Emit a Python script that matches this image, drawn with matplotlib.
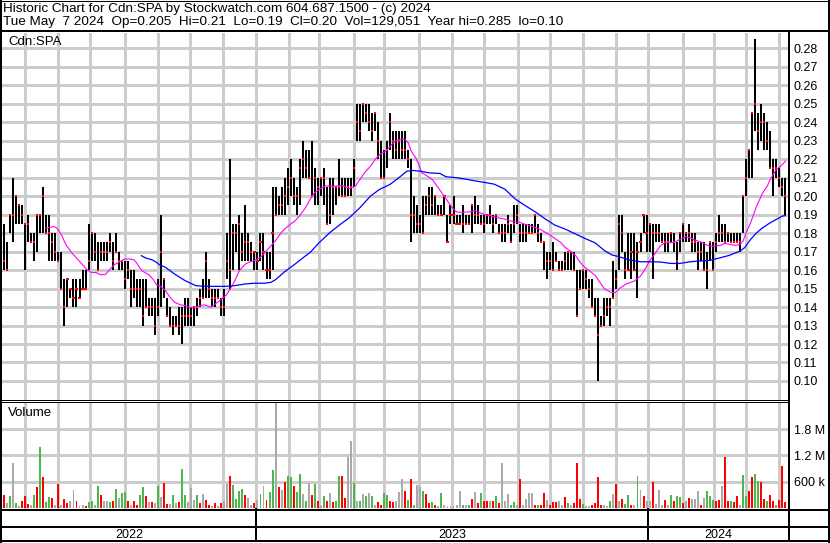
import numpy as np
import pandas as pd
import matplotlib
matplotlib.use("Agg")
import matplotlib.pyplot as plt
from matplotlib.lines import Line2D

plt.rcParams['font.family'] = ['Liberation Sans', 'DejaVu Sans']

# ---------------- data (prices in cents) ----------------
title_line1 = "Historic Chart for Cdn:SPA by Stockwatch.com 604.687.1500 - (c) 2024"
title_line2 = "Tue May  7 2024  Op=0.205  Hi=0.21  Lo=0.19  Cl=0.20  Vol=129,051  Year hi=0.285  lo=0.10"
symbol = "Cdn:SPA"
start_date, end_date = "2022-05-09", "2024-05-07"

highs = [18.5,18.5,17.5,19,21,20,19.5,19.5,18.5,19,18,18,19,19,20.5,19,19,18,18,17,
         17,15.5,15.5,15,15.5,15.5,15.5,16,16,18.5,18,18,17.5,17.5,17.5,17.5,18,17.5,18,17,
         16.5,16.5,16.5,16,16,15.5,15.5,15.5,15.5,14.5,14.5,14.5,15.5,19,15.5,14.5,14,13.5,13.5,14,
         14,14.5,14.5,14,14,14.5,15,15.5,17,15.5,15,15,15,14.5,15,18,22,18.5,18.5,19,
         18,19.5,18,17.5,17,17,18,18,17,17,20.5,20.5,20,20.5,21,21.5,22,21,20.5,22,
         23,22.5,22.5,23,21.5,21,21,21.5,20.5,21,21,20.5,22,21,21,21,21,22,25,25,
         25,25,25,24.5,24.5,24,23,22.5,23,24.5,23.5,23.5,23.5,23.5,23.5,22.5,22,20,19.5,19,
         20,20,20.5,20.5,20,19.5,19.5,20,19,19.5,20,19,19,19.5,19,19,19.5,20,19.5,19,
         19,19,19.5,19,19,18.5,18.5,18.5,19,18.5,19.5,19.5,18.5,18.5,18.5,18.5,18.5,19,18.5,18,
         17.5,17,17,17.5,17,16.5,16.5,17,17,17,17,16,16,16,16,15.5,15.5,14.5,14.5,13.5,
         14.5,14.5,14.5,16.5,16,19,19,17,18,18,18,17.5,18,19,19,18.5,18.5,18.5,18.5,18,
         18,18,18,18,17.5,18,18.5,18,18.5,18,18,17.5,17.5,17.5,17,17.5,17.5,18,19,18.5,
         18.5,18,18,18,18,18,20,22,22.5,24.5,28.5,24.5,25,24.5,24,23.5,22,22,21.5,21,21]
lows = [16.5,16,16,18,17.5,18.5,18.5,18.5,16,17.5,17.5,16.5,17,18,18,18,16.5,16.5,16.5,16.5,
        15,13,14,14.5,14,14,14.5,15,15,16,16.5,16.5,16,16.5,16.5,16.5,17,16,17,16,
        16,15,15.5,14,14.5,14,14,13,14,13.5,13.5,12.5,13.5,14,14.5,13.5,13,12.5,13,12.5,
        12,13,13,13,13,13.5,14,14.5,14.5,14.5,14,14,14.5,13.5,13.5,15.5,15,16,17,16,
        16.5,16.5,16.5,16.5,16,16,16.5,16,15.5,15.5,16,19,19,19,19,19.5,20,19.5,19,19.5,
        21,21,21,20,19.5,19.5,20,19.5,18.5,18.5,19,19.5,20,20,20,20,20,20.5,23,23,
        24,24,23.5,23,23.5,22,21,21,21.5,22.5,22,22,22,22,22,21.5,17.5,18,18,18,
        18,19,19,19,19,19,19,19,17.5,18.5,18.5,18.5,18.5,18,18.5,18.5,18,18.5,18.5,18.5,
        18,18.5,18.5,18,18.5,18,17.5,17.5,18,17.5,18,18.5,17.5,17.5,17.5,18,18,18,17.5,17.5,
        16,15.5,16,16,16.5,16,16,16,16,16,16,13.5,15,15,15,14.5,14,13.5,10,13,
        13,13.5,13,14.5,15,16,17,15.5,16,15.5,16,14.5,17,18,17,17,15.5,17.5,17.5,17.5,
        17,17,17.5,17,16,17,17.5,17.5,17.5,17,17,16,16.5,16,15,16.5,16,17,17.5,17.5,
        17.5,17.5,17.5,17.5,17.5,17,18,20,21,21,23.5,22.5,23,22.5,22.5,21.5,20,21,20.5,20,19]
closes = [17.5,16.5,16,19,19,20,19.5,19,18.5,18.5,17.5,17.5,19,19,20,18,18,17.5,17,16.5,
          15,14,15.5,15,14.5,15,14.5,15,15,16.5,18,17,16,17,17,17,17.5,16.5,17,16.5,
          16.5,15.5,16,15,15,15,15,13.5,14,14,14,13,14,17,15.5,13.5,13,13,13,13,
          13.5,13.5,13.5,13.5,14,14,14.5,14.5,16.5,15,14.5,14.5,14.5,14,14,16.5,16,18,18,18.5,
          17,17.5,17.5,17,17,16.5,17.5,17,16,16,18,19,19.5,19.5,20,20.5,21,20,20,21.5,
          22,21.5,21,20,21,20.5,21,21,18.5,19,20.5,20.5,20.5,20,20,20.5,20.5,21.5,24,23.5,
          25,24.5,24,23.5,24.5,23,21,21,22.5,24,23,22.5,23,22.5,22.5,22,19,19,18.5,18.5,
          18,19.5,20,19.5,20,19,19,20,17.5,19,19,18.5,18.5,18.5,18.5,18.5,19.5,19,19,18.5,
          18.5,19,19,18.5,19,18,18,18,18.5,17.5,18.5,19,18,18,18,18,18,19,18,17.5,
          17.5,16.5,16.5,16,16.5,16,16,16.5,17,17,16,13.5,15,16,15.5,15,14,13.5,12.5,13,
          13.5,14,14,14.5,15.5,18.5,18,16,16,17,16,17,17.5,19,18,18.5,18,18,18,17.5,
          17.5,17.5,18,17.5,16.5,18,18.5,18,18,17.5,17.5,17,17,16,16,17.5,16,17.5,18,18,
          17.5,18,17.5,17.5,17.5,17.5,20,21,22.5,24.5,25,23.5,24,24,23,21.5,21.5,21.5,21,20.5,20]

# volume in thousands of shares; direction: g = up, r = down, n = unchanged
volumes = [547,304,120,266,1026,114,40,167,281,91,76,304,486,1383,699,137,258,228,60,555,
           60,205,106,167,400,152,40,60,50,137,167,76,494,304,167,152,129,152,433,228,
           342,357,167,60,152,70,289,486,281,129,129,114,509,243,578,91,91,304,114,129,
           897,304,137,456,190,304,114,319,175,60,50,114,40,114,152,555,737,532,213,380,
           433,304,228,60,114,190,319,494,190,357,874,2500,486,418,585,737,714,509,357,783,
           319,167,570,304,555,152,76,266,167,342,129,167,737,722,228,1155,1535,570,167,167,
           327,281,342,281,60,129,60,342,304,167,137,167,357,669,380,190,669,76,532,471,
           380,327,114,137,76,50,342,61,50,38,40,60,380,76,76,76,213,365,114,342,
           152,167,152,152,281,114,1026,152,327,76,137,60,669,60,205,342,342,76,76,76,
           342,190,76,137,129,152,76,258,114,76,114,1026,213,91,50,53,76,114,699,76,
           76,53,152,327,547,152,213,91,289,76,60,737,418,266,167,167,593,91,403,76,
           190,60,304,167,266,243,114,152,228,205,205,380,76,228,380,266,190,152,190,494,
           1155,167,167,137,266,76,760,266,395,707,783,623,593,213,152,304,167,76,190,965,129]
vol_dir = ("grngngnrrrngrgrggrnr"
           "nrrnnrnnrggngrnngrgn"
           "ggrnrrggrnrngnrrngnr"
           "ggnnngrnrrnrnrnnrggg"
           "grnnrngnrggnrnrggrgg"
           "ngnrgrngrnrggrrnngng"
           "ngngnrrggrrnnnrgrgnn"
           "grrgrngnnnnnngngrnrg"
           "rrnrgrnnnggnrnnnnrgr"
           "rnrrrnnrgnrrrgnnrrrr"
           "nngnrnrggrngnrnnrnnn"
           "rngrggrnrnnnrngggrrn"
           "rrgrrnggrrggrrgrrgrrr")

ma20_pos = [31,36,38,41,44,48,51,54,58,61,64,67,70,73,76,80,83,86,89,91,93,95,99,102,104,106,110,113,
            116,120,123,126,130,133,136,140,143,146,150,153,156,159,163,166,169,173,176,179,183,186,
            189,193,196,199,203,206,209,212,216,219,222,226,229,232,236,239,242,246,249,252,256,259,
            262,266,269,271,273,276,278,280,283,287,290,293,297,300,303,306,311,315,319,322,325,329,
            332,335,338,342,345,348,352,355,358,362,365,368,372,375,378,382,385,388,391,395,398,401,
            405,408,411,415,418,421,425,428,431,435,438,441,445,448,451,455,458,461,465,468,471,474,
            478,481,484,488,491,493,495,498,500,502,504,506,509,511,513,515,518,520,521]
ma20_val = [18.27,18.36,18.27,17.91,17.37,16.92,16.65,16.38,16.02,15.87,15.87,15.75,15.75,16.02,
            16.29,16.47,16.6,16.6,16.56,16.38,16.11,15.93,15.75,15.48,15.21,15.16,14.89,14.53,14.26,
            14.12,14.08,13.99,13.94,14.08,14.12,13.99,14.17,14.35,14.62,14.98,15.43,15.97,16.33,16.45,
            16.51,16.69,16.96,17.23,17.59,17.95,18.22,18.49,18.67,18.94,19.39,19.84,20.2,20.37,20.55,
            20.55,20.52,20.59,20.52,20.41,20.55,20.91,21.27,21.63,21.98,22.25,22.43,22.7,22.97,23.09,
            23.06,22.88,22.43,22.07,21.71,21.26,21.12,20.9,20.55,20.19,19.74,19.39,19.15,19.12,19.15,
            19.21,19.09,19.0,18.95,18.85,18.81,18.76,18.67,18.61,18.58,18.49,18.4,18.31,18.22,18.04,
            17.9,17.72,17.5,17.23,17.05,16.78,16.42,16.15,15.97,15.71,15.35,14.99,14.81,14.77,15.0,
            15.23,15.32,15.41,15.68,16.04,16.49,16.94,17.3,17.48,17.48,17.52,17.66,17.81,17.75,17.63,
            17.52,17.39,17.3,17.3,17.34,17.45,17.39,17.34,17.39,17.57,18.02,18.56,19.01,19.46,19.82,
            20.18,20.54,20.9,21.17,21.44,21.62,21.8,21.89]
ma50_pos = [94,97,101,104,106,110,116,123,130,136,143,150,156,163,169,176,180,183,189,196,203,206,
            212,219,226,232,239,246,252,259,266,270,274,279,285,292,296,303,310,315,322,328,335,342,
            348,355,362,368,375,382,388,395,401,406,411,418,425,431,438,445,451,458,464,471,478,484,
            491,494,498,502,506,511,515,519,521]
ma50_val = [16.78,16.65,16.56,16.42,16.29,16.15,15.79,15.43,15.16,15.12,15.12,15.12,15.16,15.25,
            15.29,15.29,15.34,15.48,15.91,16.33,16.78,16.96,17.49,18.03,18.48,18.84,19.38,20.01,20.37,
            20.64,21.08,21.35,21.39,21.35,21.26,21.23,21.05,21.0,20.91,20.83,20.74,20.65,20.38,19.84,
            19.52,19.16,18.76,18.44,18.22,17.95,17.72,17.47,17.06,16.82,16.72,16.54,16.45,16.45,16.44,
            16.36,16.36,16.45,16.49,16.53,16.67,16.8,17.03,17.21,17.66,18.02,18.29,18.56,18.74,18.92,
            18.95]

price_ticks = [0.10,0.11,0.12,0.13,0.14,0.15,0.16,0.17,0.18,0.19,0.20,0.21,0.22,0.23,0.24,0.25,0.26,0.27,0.28]
vol_ticks = [600e3, 1.2e6, 1.8e6]
vol_tick_labels = ["600 k", "1.2 M", "1.8 M"]

# ---------------- layout helpers ----------------
W, H = 830, 543
FS_HEAD = 9.7
FS_LAB = 9.5
FS_AX = 9.0
fig = plt.figure(figsize=(W / 100, H / 100), dpi=100)
fig.patch.set_facecolor("white")

def fr(x0, y0, x1, y1):
    return [x0 / W, 1 - y1 / H, (x1 - x0) / W, (y1 - y0) / H]

def hline(y, x0, x1, lw=1.0, color="black", z=5):
    fig.add_artist(Line2D([x0 / W, x1 / W], [1 - y / H, 1 - y / H], color=color,
                          lw=lw * 0.72, antialiased=False, transform=fig.transFigure, zorder=z))

def vline(x, y0, y1, lw=1.0, color="black", z=5):
    fig.add_artist(Line2D([x / W, x / W], [1 - y0 / H, 1 - y1 / H], color=color,
                          lw=lw * 0.72, antialiased=False, transform=fig.transFigure, zorder=z))

dates = pd.bdate_range(start_date, end_date)
n = len(dates)
pos = np.arange(n)[::-1][::2][::-1]
pos = pos[-len(closes):]
month_starts = [i for i in range(1, n) if dates[i].month != dates[i - 1].month]
year_starts = [i for i in range(1, n) if dates[i].year != dates[i - 1].year]
xlim = (1.6, n + 0.8)

hi = np.array(highs) / 100
lo = np.array(lows) / 100
cl = np.array(closes) / 100
grid_c = "#cccccc"

def draw_grid(ax, xs, ys):
    for xv in xs:
        ax.axvline(xv, color=grid_c, lw=1.0, antialiased=False, zorder=1)
    for yv in ys:
        ax.axhline(yv, color=grid_c, lw=1.0, antialiased=False, zorder=1)

# ---------------- price panel ----------------
axp = fig.add_axes(fr(2, 33, 788, 400))
axp.set_xlim(*xlim)
axp.set_ylim(0.0897, 0.2883)
for s in axp.spines.values():
    s.set_visible(False)
draw_grid(axp, month_starts, price_ticks)
axp.vlines(pos, lo, hi, color="black", lw=1.44, antialiased=False, zorder=2)
axp.hlines(cl, pos - 0.7, pos + 0.7, color="#ff0000", lw=1.44, antialiased=False, zorder=3)
axp.plot(ma20_pos, np.array(ma20_val) / 100, color="#ff00ff", lw=0.8, zorder=4)
axp.plot(ma50_pos, np.array(ma50_val) / 100, color="#0000ff", lw=0.9, zorder=4)
axp.set_xticks([])
axp.yaxis.tick_right()
axp.set_yticks(price_ticks)
axp.set_yticklabels([f"{t:.2f}" for t in price_ticks])
axp.tick_params(axis="y", length=0, pad=4.3, labelsize=FS_AX)
axp.text(6 / 786, 1 - (42 - 33) / 367, symbol, transform=axp.transAxes, fontsize=FS_LAB,
         va="center", ha="left", zorder=6)

# ---------------- volume panel ----------------
axv = fig.add_axes(fr(2, 402, 788, 509))
axv.set_xlim(*xlim)
axv.set_ylim(-23e3, 2418e3)
for s in axv.spines.values():
    s.set_visible(False)
draw_grid(axv, month_starts, vol_ticks)
cmap = {"g": "#4cb84c", "r": "#ff0000", "n": "#aaaaaa"}
vcols = [cmap[c] for c in vol_dir[:len(volumes)]]
axv.bar(pos[-len(volumes):], np.array(volumes) * 1e3, width=1.3, color=vcols,
        antialiased=False, zorder=2)
axv.set_xticks([])
axv.yaxis.tick_right()
axv.set_yticks(vol_ticks)
axv.set_yticklabels(vol_tick_labels)
axv.tick_params(axis="y", length=0, pad=4.3, labelsize=FS_AX)
axv.text(6 / 786, 1 - (413 - 402) / 107, "Volume", transform=axv.transAxes, fontsize=FS_LAB,
         va="center", ha="left", zorder=6)

# ---------------- year row ----------------
axy = fig.add_axes(fr(2, 527, 788, 541))
axy.set_xlim(*xlim)
axy.set_ylim(0, 1)
axy.axis("off")
edges = [xlim[0]] + year_starts + [xlim[1]]
years = [dates[0].year] + [dates[i].year for i in year_starts]
for a, b, yr in zip(edges[:-1], edges[1:], years):
    axy.text((a + b) / 2, 0.45, str(yr), ha="center", va="center", fontsize=FS_AX)

# ---------------- frame lines ----------------
hline(0.5, 0, W, 1)
hline(31, 0, W, 2)
vline(0.5, 0, H, 2)
vline(W - 1.5, 0, H, 2)
vline(788.5, 31, 541, 2)
hline(400, 0, 789, 1)
hline(402, 0, 789, 1)
hline(509.5, 0, W, 2)
hline(527, 0, W, 2)
hline(541, 0, W, 2)
pxs = 786 / (xlim[1] - xlim[0])
for ys in year_starts:
    xp = 2 + (ys - xlim[0]) * pxs
    vline(xp, 509, 541, 2)

# ---------------- header ----------------
fig.text(3 / W, 1 - 9 / H, title_line1, fontsize=FS_HEAD, va="center", ha="left")
fig.text(3 / W, 1 - 22.5 / H, title_line2, fontsize=FS_HEAD, va="center", ha="left")

fig.savefig("out.png", dpi=100, facecolor="white")
